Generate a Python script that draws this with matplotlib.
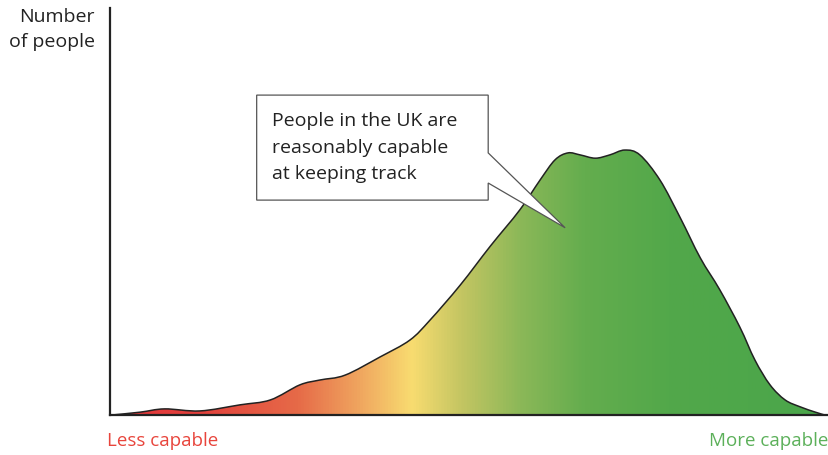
import numpy as np
import matplotlib
matplotlib.use("Agg")
import matplotlib.pyplot as plt
from matplotlib.path import Path
from matplotlib.patches import PathPatch, Polygon
from matplotlib.colors import LinearSegmentedColormap

# capability score (0 = less capable, 100 = more capable) vs number of people
capability = [0.3, 4.2, 7.6, 12.5, 18.1, 22.3, 26.4, 29.2, 32.7, 37.6, 41.7, 44.5,
              48.7, 52.9, 57.0, 59.8, 61.9, 63.7, 65.4, 67.5, 69.5, 71.6, 73.7,
              76.5, 79.3, 82.1, 84.8, 87.6, 89.7, 91.8, 93.9, 96.0, 98.1, 99.4]
people = [0.0, 0.7, 1.5, 1.0, 2.5, 3.7, 7.4, 8.6, 9.8, 14.3, 18.4, 23.3,
          31.9, 41.5, 50.4, 57.7, 62.7, 64.4, 63.9, 63.1, 63.9, 65.1, 63.9,
          57.7, 48.5, 38.6, 30.8, 21.6, 13.5, 7.4, 3.7, 2.0, 0.7, 0.0]

callout_text = "People in the UK are\nreasonably capable\nat keeping track"
callout_tip = (63.3, 46.0)

# gradient colour stops along the x axis
grad_pos = [0.0, 0.12, 0.26, 0.35, 0.42, 0.49, 0.57, 0.66, 0.78, 1.0]
grad_col = ["#e2363a", "#e2403c", "#e66a48", "#f0a860", "#f8dc70",
            "#c3c562", "#8cb858", "#64ad4e", "#52a84a", "#4aa64a"]

plt.rcParams["font.family"] = ["Open Sans", "DejaVu Sans"]

fig = plt.figure(figsize=(8.29, 4.55), dpi=100)
ax = fig.add_axes([110 / 829, 40 / 455, 719 / 829, 407 / 455])
ax.set_xlim(0, 100)
ax.set_ylim(0, 100)


def smooth_path(xs, ys):
    # catmull-rom -> cubic bezier so the outline is drawn smooth
    pts = np.column_stack([xs, ys])
    verts = [pts[0]]
    codes = [Path.MOVETO]
    n = len(pts)
    for i in range(n - 1):
        p0 = pts[max(i - 1, 0)]
        p1 = pts[i]
        p2 = pts[i + 1]
        p3 = pts[min(i + 2, n - 1)]
        c1 = p1 + (p2 - p0) / 6
        c2 = p2 - (p3 - p1) / 6
        verts += [c1, c2, p2]
        codes += [Path.CURVE4] * 3
    return verts, codes


verts, codes = smooth_path(capability, people)

# closed fill shape down to the baseline
fill_verts = verts + [(capability[-1], 0), (capability[0], 0), verts[0]]
fill_codes = codes + [Path.LINETO, Path.LINETO, Path.CLOSEPOLY]
fill_patch = PathPatch(Path(fill_verts, fill_codes), facecolor="none", edgecolor="none")
ax.add_patch(fill_patch)

cmap = LinearSegmentedColormap.from_list("cap", list(zip(grad_pos, grad_col)))
grad = np.linspace(0, 1, 512).reshape(1, -1)
im = ax.imshow(grad, cmap=cmap, extent=[0, 100, 0, 100], aspect="auto", zorder=1)
im.set_clip_path(fill_patch)

ax.add_patch(PathPatch(Path(verts, codes), facecolor="none", edgecolor="#222222",
                       linewidth=1.1, zorder=2))

# axes: only left and bottom lines
for s in ["top", "right"]:
    ax.spines[s].set_visible(False)
for s in ["left", "bottom"]:
    ax.spines[s].set_linewidth(1.6)
    ax.spines[s].set_color("#222222")
ax.set_xticks([])
ax.set_yticks([])

# callout box with pointer
tip = ax.transAxes.inverted().transform(ax.transData.transform(callout_tip))
bx0, bx1, by0, by1 = 0.204, 0.526, 0.528, 0.786
shape = [(bx0, by0), (bx0, by1), (bx1, by1), (bx1, 0.644), tuple(tip),
         (bx1, 0.570), (bx1, by0)]
ax.add_patch(Polygon(shape, closed=True, transform=ax.transAxes, facecolor="white",
                     edgecolor="#555555", linewidth=0.9, zorder=5))
ax.text(bx0 + 0.022, (by0 + by1) / 2, callout_text, transform=ax.transAxes,
        fontsize=14, color="#222222", va="center", ha="left", linespacing=1.6,
        zorder=6)

fig.text(95 / 829, 1 - 8 / 455, "Number\nof people", ha="right", va="top",
         fontsize=14, color="#222222", linespacing=1.5)
fig.text(107 / 829, 1 - 441 / 455, "Less capable", ha="left", va="center",
         fontsize=13.5, color="#e8453c")
fig.text(828 / 829, 1 - 441 / 455, "More capable", ha="right", va="center",
         fontsize=13.5, color="#5cb05a")

fig.savefig("out.png", dpi=100)
